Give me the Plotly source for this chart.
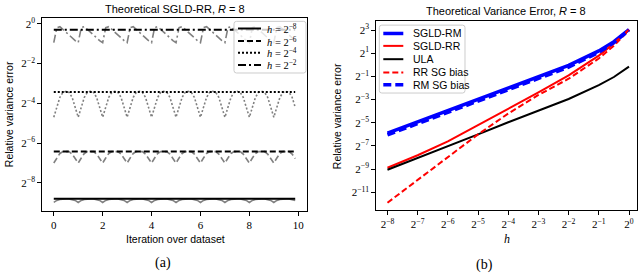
import math
import plotly.graph_objects as go

# ---------------- Left panel data (a) ----------------
iters_per_epoch = 8
n_epochs = 10
iteration = [k / iters_per_epoch for k in range(iters_per_epoch * n_epochs)]

h_names_left = ["<i>h</i> = 2<sup>−8</sup>", "<i>h</i> = 2<sup>−6</sup>",
                "<i>h</i> = 2<sup>−4</sup>", "<i>h</i> = 2<sup>−2</sup>"]
dash_left = ["solid", "6px,3px", "2px,2px", "8px,3px,2px,3px"]
# stationary (black) level, log2 of relative variance error
stationary_log2 = [-8.80, -6.42, -3.43, -0.30]
# within-epoch profile of the SGLD-RR error (grey), log2, one value per iteration of the epoch
profile_h8 = [-8.98, -8.88, -8.83, -8.81, -8.81, -8.81, -8.83, -8.88]
profile_h6 = [-7.00, -6.75, -6.52, -6.43, -6.42, -6.43, -6.55, -6.78]
profile_h4 = [-4.70, -4.20, -3.70, -3.45, -3.40, -3.45, -3.70, -4.20]
profile_h2 = [-0.95, -0.20, -0.15, -0.30, -0.45, -0.60, -0.72, -0.85]
profiles = [profile_h8, profile_h6, profile_h4, profile_h2]

x_ticks_left = [0, 2, 4, 6, 8, 10]
y_ticks_left_exp = [0, -2, -4, -6, -8]

# ---------------- Right panel data (b) ----------------
log2_h = [-8, -7, -6, -5, -4, -3, -2, -1, -0.5, 0]
sgld_rm = [-5.90, -4.92, -3.94, -2.95, -1.95, -1.00, -0.05, 1.20, 2.00, 3.05]
sgld_rr = [-8.88, -7.80, -6.60, -5.20, -3.80, -2.38, -0.90, 0.80, 1.85, 3.05]
ula = [-9.05, -8.05, -7.03, -6.00, -4.95, -3.95, -2.95, -1.75, -1.05, -0.15]
rr_sg_bias = [-11.90, -9.93, -7.96, -6.00, -4.20, -2.60, -1.20, 0.55, 1.65, 3.00]
rm_sg_bias = [-6.05, -5.07, -4.09, -3.10, -2.10, -1.15, -0.20, 1.08, 1.92, 3.00]

names_right = ["SGLD-RM", "SGLD-RR", "ULA", "RR SG bias", "RM SG bias"]
colors_right = ["blue", "red", "black", "red", "blue"]
dash_right = ["solid", "solid", "solid", "6px,3px", "8px,4px"]
width_right = [3.5, 2, 2, 2, 3.5]
values_right = [sgld_rm, sgld_rr, ula, rr_sg_bias, rm_sg_bias]

x_ticks_right_exp = [-8, -7, -6, -5, -4, -3, -2, -1, 0]
y_ticks_right_exp = [3, 1, -1, -3, -5, -7, -9, -11]

W, H = 640, 278


def px_x(p):
    return p / W


def px_y(p):
    return (H - p) / H


def pow2(vals):
    return [2.0 ** v for v in vals]


def sup_label(e):
    s = str(e).replace("-", "−")
    return f"2<sup>{s}</sup>"


fig = go.Figure()

# grey SGLD-RR curves (drawn first)
for prof, dsh in zip(profiles, dash_left):
    yv = [v for _ in range(n_epochs) for v in prof]
    fig.add_trace(go.Scatter(x=iteration, y=pow2(yv), mode="lines",
                             line=dict(color="rgb(128,128,128)", width=1.6, dash=dsh),
                             showlegend=False, xaxis="x", yaxis="y", hoverinfo="skip"))
# black stationary levels
for name, lvl, dsh in zip(h_names_left, stationary_log2, dash_left):
    fig.add_trace(go.Scatter(x=iteration, y=pow2([lvl] * len(iteration)), mode="lines",
                             name=name, line=dict(color="black", width=2, dash=dsh),
                             showlegend=False, xaxis="x", yaxis="y"))

# right panel
for name, vals, col, dsh, w in zip(names_right, values_right, colors_right, dash_right, width_right):
    fig.add_trace(go.Scatter(x=pow2(log2_h), y=pow2(vals), mode="lines", name=name,
                             line=dict(color=col, width=w, dash=dsh),
                             showlegend=False, xaxis="x2", yaxis="y2"))

L2 = math.log10(2)
tick_font = dict(family="Liberation Serif", size=11, color="black")
axis_common = dict(showline=True, mirror=True, linecolor="black", linewidth=1,
                   ticks="outside", ticklen=3.5, tickwidth=1, tickcolor="black",
                   showgrid=False, zeroline=False, tickfont=tick_font,
                   ticklabeloverflow="allow")

fig.update_layout(
    width=W, height=H, autosize=False,
    margin=dict(l=0, r=0, t=0, b=0),
    paper_bgcolor="white", plot_bgcolor="white",
    showlegend=False,
    xaxis=dict(domain=[px_x(41.7), px_x(307.3)], range=[-0.494, 10.37],
               tickvals=x_ticks_left, ticktext=[str(v) for v in x_ticks_left],
               anchor="y", **axis_common),
    yaxis=dict(domain=[px_y(210.7), px_y(16)], type="log",
               range=[-9.42 * L2, 0.29 * L2],
               tickvals=pow2(y_ticks_left_exp), ticktext=[sup_label(e) for e in y_ticks_left_exp],
               anchor="x", **axis_common),
    xaxis2=dict(domain=[px_x(375.7), px_x(637)], type="log",
                range=[-8.39 * L2, 0.265 * L2],
                tickvals=pow2(x_ticks_right_exp), ticktext=[sup_label(e) for e in x_ticks_right_exp],
                anchor="y2", **axis_common),
    yaxis2=dict(domain=[px_y(210), px_y(19.3)], type="log",
                range=[-12.57 * L2, 3.77 * L2],
                tickvals=pow2(y_ticks_right_exp), ticktext=[sup_label(e) for e in y_ticks_right_exp],
                anchor="x2", **axis_common),
)


# ---------- hand-drawn legends (matplotlib style) ----------
def rounded_box(x0, y0, x1, y1, r=2.5):
    # pixel coords -> paper path with rounded corners
    X = lambda p: f"{px_x(p):.5f}"
    Y = lambda p: f"{px_y(p):.5f}"
    return (f"M{X(x0 + r)},{Y(y0)} L{X(x1 - r)},{Y(y0)} Q{X(x1)},{Y(y0)} {X(x1)},{Y(y0 + r)} "
            f"L{X(x1)},{Y(y1 - r)} Q{X(x1)},{Y(y1)} {X(x1 - r)},{Y(y1)} "
            f"L{X(x0 + r)},{Y(y1)} Q{X(x0)},{Y(y1)} {X(x0)},{Y(y1 - r)} "
            f"L{X(x0)},{Y(y0 + r)} Q{X(x0)},{Y(y0)} {X(x0 + r)},{Y(y0)} Z")


def add_legend(box, rows_y, sample_x, text_x, labels, colors, dashes, widths, font):
    x0, y0, x1, y1 = box
    fig.add_shape(type="path", xref="paper", yref="paper", layer="above",
                  path=rounded_box(x0, y0, x1, y1),
                  fillcolor="rgba(255,255,255,0.8)", line=dict(color="#cccccc", width=1))
    for yy, lab, col, dsh, w in zip(rows_y, labels, colors, dashes, widths):
        fig.add_shape(type="line", xref="paper", yref="paper", layer="above",
                      x0=px_x(sample_x[0]), x1=px_x(sample_x[1]), y0=px_y(yy), y1=px_y(yy),
                      line=dict(color=col, width=w, dash=dsh))
        fig.add_annotation(text=lab, xref="paper", yref="paper", showarrow=False,
                           x=px_x(text_x), y=px_y(yy), xanchor="left", yanchor="middle",
                           font=font)


add_legend((234, 19.5, 306, 71.5), [26.7, 39.3, 51.2, 63.4], (238, 261), 265,
           h_names_left, ["black"] * 4, dash_left, [2] * 4,
           dict(family="Liberation Serif", size=10.5, color="black"))
add_legend((379.3, 23.3, 465, 91.7), [31.7, 44.2, 57.6, 70.9, 83.4], (383.3, 403.3), 410.5,
           names_right, colors_right, dash_right, width_right,
           dict(family="Liberation Sans", size=10.5, color="black"))

sans = dict(family="Liberation Sans", size=11, color="black")
serif13 = dict(family="Liberation Serif", size=14, color="black")
annotations = [
    dict(text="Theoretical SGLD-RR, <i>R</i> = 8", x=px_x(175), y=px_y(7), font=sans),
    dict(text="Theoretical Variance Error, <i>R</i> = 8", x=px_x(506), y=px_y(9.5), font=sans),
    dict(text="Relative variance error", x=px_x(9), y=px_y(113), font=dict(family="Liberation Sans", size=10.5, color="black"), textangle=-90),
    dict(text="Relative variance error", x=px_x(337), y=px_y(115), font=dict(family="Liberation Sans", size=10.5, color="black"), textangle=-90),
    dict(text="Iteration over dataset", x=px_x(175), y=px_y(238.5), font=dict(family="Liberation Sans", size=10.5, color="black")),
    dict(text="<i>h</i>", x=px_x(507), y=px_y(238.5), font=dict(family="Liberation Serif", size=12, color="black")),
    dict(text="(a)", x=px_x(163), y=px_y(263), font=serif13),
    dict(text="(b)", x=px_x(484), y=px_y(265), font=serif13),
]
for a in annotations:
    fig.add_annotation(xref="paper", yref="paper", showarrow=False,
                       xanchor="center", yanchor="middle", **a)

fig.write_html("out.html",
               config={"displayModeBar": False, "staticPlot": True},
               post_script="document.body.style.margin='0';document.body.style.overflow='hidden';")
